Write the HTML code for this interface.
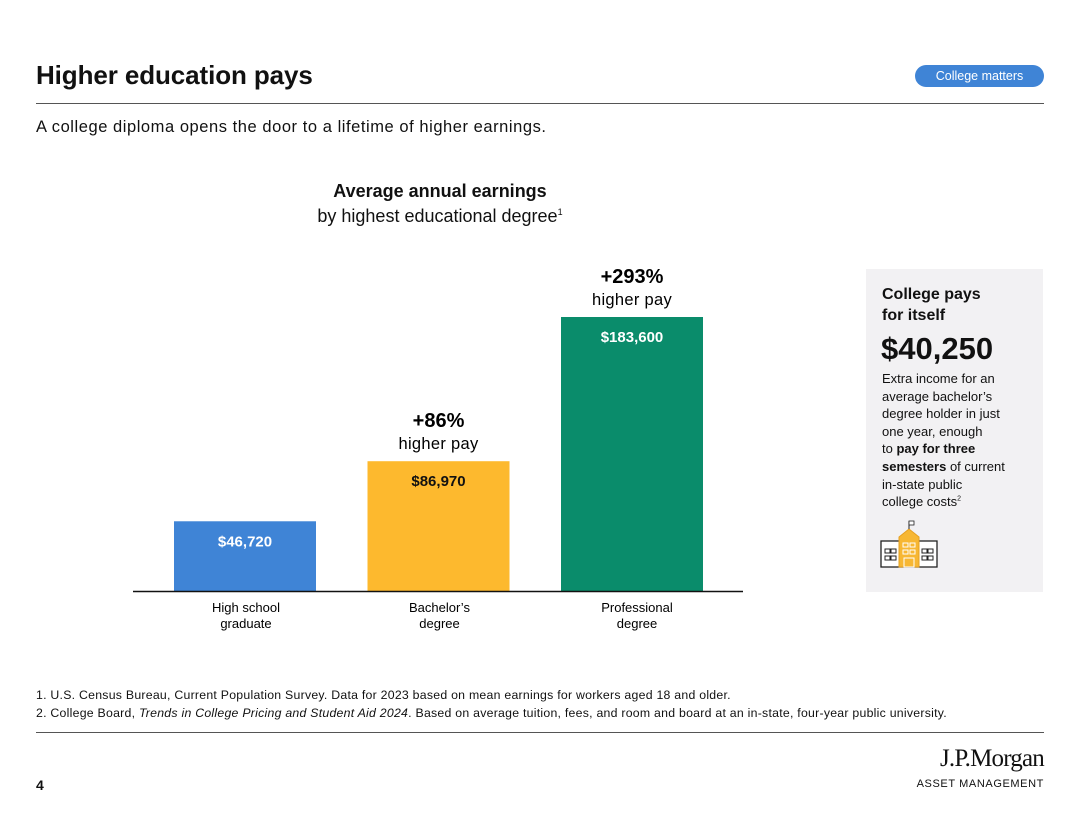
<!DOCTYPE html>
<html><head><meta charset="utf-8"><style>
body{margin:0;width:1080px;height:826px;background:#fff;font-family:"Liberation Sans",sans-serif;color:#111;position:relative;overflow:hidden}
.a{position:absolute}
sup{line-height:0}
</style></head><body>
<div class="a" style="left:36px;top:60px;font-size:26px;font-weight:bold;letter-spacing:-0.1px">Higher education pays</div>
<div class="a" style="left:915px;top:65px;width:129px;height:22px;border-radius:11px;background:#3f84d6;color:#fff;font-size:12.5px;line-height:22px;text-align:center">College matters</div>
<div class="a" style="left:36px;top:103px;width:1008px;height:1px;background:#555"></div>
<div class="a" style="left:36px;top:118px;font-size:16.5px;letter-spacing:0.55px">A college diploma opens the door to a lifetime of higher earnings.</div>
<div class="a" style="left:240px;top:179px;width:400px;text-align:center;font-size:18px;line-height:25px"><b>Average annual earnings</b><br>by highest educational degree<sup style="font-size:9px">1</sup></div>
<svg class="a" style="left:0;top:0" width="1080" height="826" id="chart"></svg>
<div class="a" style="left:866px;top:269px;width:177px;height:323px;background:#f2f1f3">
 <div class="a" style="left:16px;top:15px;font-size:16px;font-weight:bold;line-height:21px">College pays<br>for itself</div>
 <div class="a" style="left:15px;top:62px;font-size:31px;font-weight:bold">$40,250</div>
 <div class="a" style="left:16px;top:101px;width:160px;white-space:nowrap;font-size:13px;line-height:17.6px">Extra income for an<br>average bachelor’s<br>degree holder in just<br>one year, enough<br>to <b>pay for three</b><br><b>semesters</b> of current<br>in-state public<br>college costs<sup style="font-size:7px">2</sup></div>
 <svg class="a" style="left:13px;top:250px" width="60" height="52">
  <rect x="2" y="22" width="56" height="26" fill="#fff" stroke="#222" stroke-width="1.3"/>
  <path d="M20 18 L30 10 L40 18 V48 H20 Z" fill="#f7b733" stroke="#e6a020"/>
  <line x1="30" y1="10" x2="30" y2="2" stroke="#222"/><rect x="30" y="2" width="5" height="4" fill="#fff" stroke="#222" stroke-width=".8"/>
  <g fill="none" stroke="#222" stroke-width="1"><rect x="6" y="30" width="5" height="4"/><rect x="12" y="30" width="5" height="4"/><rect x="6" y="37" width="5" height="4"/><rect x="12" y="37" width="5" height="4"/><rect x="43" y="30" width="5" height="4"/><rect x="49" y="30" width="5" height="4"/><rect x="43" y="37" width="5" height="4"/><rect x="49" y="37" width="5" height="4"/></g>
  <g fill="none" stroke="#fff" stroke-width="1"><rect x="24" y="24" width="5" height="4"/><rect x="31" y="24" width="5" height="4"/><rect x="24" y="31" width="5" height="4"/><rect x="31" y="31" width="5" height="4"/><rect x="25" y="39" width="10" height="9"/></g>
 </svg>
</div>
<div class="a" style="left:36px;top:686px;font-size:12.3px;letter-spacing:0.25px;line-height:18px">1. U.S. Census Bureau, Current Population Survey. Data for 2023 based on mean earnings for workers aged 18 and older.<br>2. College Board, <i>Trends in College Pricing and Student Aid 2024</i>. Based on average tuition, fees, and room and board at an in-state, four-year public university.</div>
<div class="a" style="left:36px;top:732px;width:1008px;height:1px;background:#555"></div>
<div class="a" style="left:36px;top:777px;font-size:14px;font-weight:bold">4</div>
<div class="a" style="left:880px;top:746px;width:164px;text-align:right"><div style="font-family:'Liberation Serif',serif;font-size:25px;letter-spacing:-0.8px;line-height:26px">J.P.Morgan</div><div style="font-size:11px;letter-spacing:0.6px;margin-top:6px">ASSET MANAGEMENT</div></div>
<script>
const categories=["High school|graduate","Bachelor’s|degree","Professional|degree"];
const values=[46720,86970,183600];
const valueLabels=["$46,720","$86,970","$183,600"];
const pctLabels=["","+86%","+293%"];
const colors=["#3f84d6","#fdb92e","#0a8c6b"];
const svg=document.getElementById('chart');const NS="http://www.w3.org/2000/svg";
const base=591,left=133,right=743,scale=274/183600;
function y(v){return base-v*scale}
function x(i){return 174+i*193.5}
const bw=142;
function el(t,a,txt){const e=document.createElementNS(NS,t);for(const k in a)e.setAttribute(k,a[k]);if(txt!=null)e.textContent=txt;svg.appendChild(e);return e}
values.forEach((v,i)=>{
 const r=el('rect',{x:x(i),y:y(v),width:bw,height:base-y(v),fill:colors[i]});
 
 
 const t=el('text',{x:x(i)+bw/2,y:y(v)+25,'text-anchor':'middle','font-size':15,'font-weight':'bold',fill:i==1?'#111':'#fff'},valueLabels[i]);
 
 
 if(pctLabels[i]){
  const p=el('text',{x:x(i)+bw/2,y:y(v)-34,'text-anchor':'middle','font-size':20,'font-weight':'bold'},pctLabels[i]);
  
  
  const h=el('text',{x:x(i)+bw/2,y:y(v)-12,'text-anchor':'middle','font-size':16.5,'letter-spacing':0.3},'higher pay');
  
  
 }
 categories[i].split('|').forEach((ln,j)=>{
  const c=el('text',{x:x(i)+bw/2+(i==2?5:1),y:base+21+j*16,'text-anchor':'middle','font-size':13},ln);
  
  
 });
});
const ax=el('line',{x1:left,x2:right,y1:base+0.5,y2:base+0.5,stroke:'#111','stroke-width':1.5});


</script>
</body></html>
